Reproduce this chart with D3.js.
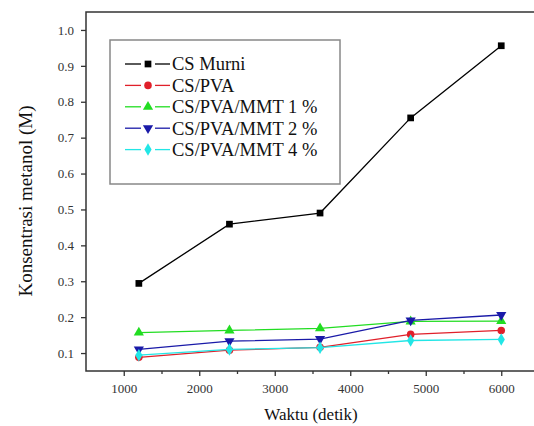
<!DOCTYPE html>
<html lang="id">
<head>
  <meta charset="UTF-8" />
  <title>Konsentrasi metanol vs waktu</title>
  <script src="https://d3js.org/d3.v7.min.js"></script>
  <style>
    body {
      margin: 0;
      background: #fff;
    }
    svg {
      display: block;
    }
    svg text {
      font-family: "Liberation Serif", "Times New Roman", serif;
    }
    .tick text {
      font-size: 13px;
      fill: #333;
    }
    .tick line {
      stroke: #333;
      stroke-width: 1.3;
    }
    .legend-label {
      font-size: 18.5px;
      fill: #111;
    }
    .axis-title {
      fill: #111;
    }
  </style>
</head>
<body>
  <svg></svg>

  <script>
    const times = [1200, 2400, 3600, 4800, 6000];
    const seriesNames = ["CS Murni", "CS/PVA", "CS/PVA/MMT 1 %", "CS/PVA/MMT 2 %", "CS/PVA/MMT 4 %"];
    const csMurni = [0.294, 0.459, 0.490, 0.755, 0.956];
    const csPva = [0.088, 0.108, 0.116, 0.152, 0.163];
    const mmt1 = [0.157, 0.163, 0.169, 0.188, 0.189];
    const mmt2 = [0.110, 0.133, 0.139, 0.191, 0.206];
    const mmt4 = [0.094, 0.110, 0.115, 0.135, 0.138];
    const xTicks = [1000, 2000, 3000, 4000, 5000, 6000];
    const xMinor = [1500, 2500, 3500, 4500, 5500];
    const yTicks = [0.1, 0.2, 0.3, 0.4, 0.5, 0.6, 0.7, 0.8, 0.9, 1.0];

    const seriesValues = [csMurni, csPva, mmt1, mmt2, mmt4];
    const colors = ["#000000", "#e0202a", "#22dd22", "#1a1aa8", "#22e6e6"];
    const symbols = [d3.symbolSquare, d3.symbolCircle, d3.symbolTriangle, "down", d3.symbolDiamond];

    const width = 534;
    const height = 426;
    const plotLeft = 86, plotRight = 539, plotTop = 12, plotBottom = 371;

    const svg = d3.select("svg")
      .attr("width", width)
      .attr("height", height);

    const x = d3.scaleLinear().domain([500, 6500]).range([plotLeft, plotRight]);
    const y = d3.scaleLinear().domain([0.05, 1.05]).range([plotBottom, plotTop]);

    // frame
    svg.append("rect")
      .attr("x", plotLeft).attr("y", plotTop)
      .attr("width", plotRight - plotLeft).attr("height", plotBottom - plotTop)
      .attr("fill", "none")
      .attr("stroke", "#333")
      .attr("stroke-width", 1.5);

    // axes
    const xAxis = svg.append("g")
      .attr("transform", `translate(0,${plotBottom})`)
      .call(d3.axisBottom(x).tickValues(xTicks).tickFormat(d3.format("d")).tickSize(5).tickPadding(8));
    xAxis.select(".domain").remove();

    const xMinorAxis = svg.append("g")
      .attr("transform", `translate(0,${plotBottom})`)
      .call(d3.axisBottom(x).tickValues(xMinor).tickFormat("").tickSize(3));
    xMinorAxis.select(".domain").remove();

    const yAxis = svg.append("g")
      .attr("transform", `translate(${plotLeft},0)`)
      .call(d3.axisLeft(y).tickValues(yTicks).tickFormat(d3.format(".1f")).tickSize(5).tickPadding(7));
    yAxis.select(".domain").remove();

    // axis titles
    svg.append("text")
      .attr("class", "axis-title")
      .attr("x", 311)
      .attr("y", 420)
      .attr("text-anchor", "middle")
      .style("font-size", "17px")
      .text("Waktu (detik)");

    svg.append("text")
      .attr("class", "axis-title")
      .attr("transform", "translate(32,201) rotate(-90)")
      .attr("text-anchor", "middle")
      .style("font-size", "19px")
      .text("Konsentrasi metanol (M)");

    function symbolPath(s, size) {
      if (s === "down") {
        return d3.symbol(d3.symbolTriangle, size)();
      }
      return d3.symbol(s, size)();
    }

    const line = d3.line()
      .x((d, i) => x(times[i]))
      .y(d => y(d));

    seriesValues.forEach((vals, k) => {
      const g = svg.append("g");
      g.append("path")
        .datum(vals)
        .attr("d", line)
        .attr("fill", "none")
        .attr("stroke", colors[k])
        .attr("stroke-width", 1.3);
      g.selectAll("path.pt")
        .data(vals)
        .enter()
        .append("path")
        .attr("class", "pt")
        .attr("d", symbolPath(symbols[k], 45))
        .attr("transform", (d, i) => `translate(${x(times[i])},${y(d)})` + (symbols[k] === "down" ? " rotate(180)" : ""))
        .attr("fill", colors[k]);
    });

    // legend
    const legend = svg.append("g");
    legend.append("rect")
      .attr("x", 110).attr("y", 40)
      .attr("width", 230).attr("height", 144)
      .attr("fill", "#fff")
      .attr("stroke", "#888")
      .attr("stroke-width", 1.5);

    seriesNames.forEach((name, k) => {
      const ly = 64 + k * 21.4;
      const row = legend.append("g").attr("transform", `translate(0,${ly})`);
      [[125, 141], [155, 170]].forEach(([a, b]) => {
        row.append("line")
          .attr("x1", a).attr("x2", b)
          .attr("stroke", colors[k])
          .attr("stroke-width", 1.3);
      });
      row.append("path")
        .attr("d", symbolPath(symbols[k], 45))
        .attr("transform", `translate(148,0)` + (symbols[k] === "down" ? " rotate(180)" : ""))
        .attr("fill", colors[k]);
      row.append("text")
        .attr("class", "legend-label")
        .attr("x", 172)
        .attr("dy", "0.35em")
        .text(name);
    });
  </script>
</body>
</html>
